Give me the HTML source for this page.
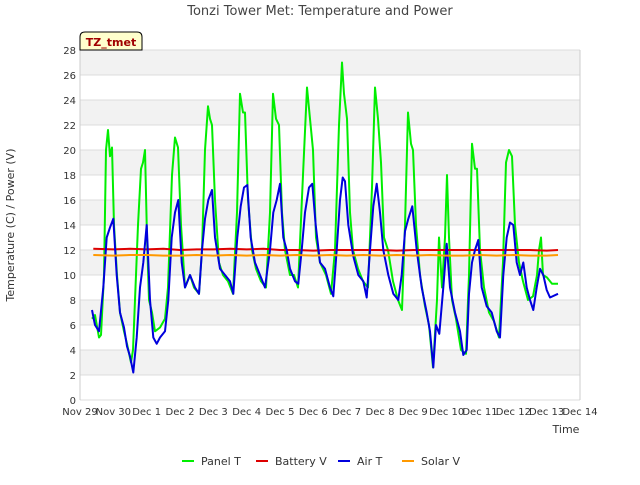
<!DOCTYPE html>
<html><head><meta charset="utf-8"><style>
body{margin:0;background:#fff;font-family:"Liberation Sans","DejaVu Sans",sans-serif}
</style></head><body>
<svg id="c" width="640" height="480" xmlns="http://www.w3.org/2000/svg" font-family="DejaVu Sans, Liberation Sans, sans-serif">
<text x="320" y="15" text-anchor="middle" font-size="13" fill="#444">Tonzi Tower Met: Temperature and Power</text>
<g id="grid"></g>
<g id="ax"></g>
<g id="series"></g>
<text x="14" y="225" transform="rotate(-90 14 225)" text-anchor="middle" font-size="11" fill="#333">Temperature (C) / Power (V)</text>
<text x="566" y="433" text-anchor="middle" font-size="11" fill="#333">Time</text>
<g>
<path d="M80,50 L80,37 Q80,32 85,32 L137,32 Q142,32 142,37 L142,50 Z" fill="#ffffcc" stroke="#000"/>
<text x="111" y="46" text-anchor="middle" font-size="11" font-weight="bold" fill="#a00000">TZ_tmet</text>
</g>
<g id="legend"></g>
</svg>
<script>
const yTicks=[0,2,4,6,8,10,12,14,16,18,20,22,24,26,28];
const xTickLabels=["Nov 29","Nov 30","Dec 1","Dec 2","Dec 3","Dec 4","Dec 5","Dec 6","Dec 7","Dec 8","Dec 9","Dec 10","Dec 11","Dec 12","Dec 13","Dec 14"];
const panelDays=[0.36,0.45,0.57,0.63,0.72,0.78,0.84,0.9,0.96,1.02,1.11,1.2,1.32,1.41,1.53,1.59,1.65,1.74,1.83,1.89,1.95,2.01,2.07,2.16,2.25,2.4,2.55,2.64,2.76,2.85,2.94,3.03,3.15,3.3,3.42,3.57,3.66,3.75,3.84,3.9,3.96,4.05,4.17,4.29,4.44,4.59,4.71,4.8,4.89,4.95,5.04,5.16,5.28,5.43,5.58,5.7,5.79,5.88,5.97,6.06,6.15,6.3,6.42,6.54,6.69,6.81,6.9,6.99,7.08,7.2,7.38,7.53,7.65,7.77,7.86,7.92,8.01,8.1,8.19,8.34,8.49,8.64,8.76,8.85,8.94,9.03,9.12,9.24,9.39,9.54,9.66,9.75,9.84,9.93,9.99,10.08,10.2,10.35,10.47,10.59,10.71,10.77,10.86,10.95,11.01,11.07,11.16,11.28,11.43,11.58,11.67,11.76,11.85,11.91,12.0,12.12,12.27,12.42,12.57,12.69,12.78,12.87,12.96,13.05,13.17,13.29,13.44,13.59,13.71,13.77,13.83,13.89,14.01,14.16,14.34];
const panelT=[6.5,6.8,5,5.2,10,20,21.6,19.5,20.2,14,10,7,5.5,4.5,3,4,8,14,18.5,19,20,13,8,7,5.5,5.8,6.5,9,18,21,20.2,14,9,10,9,8.5,12,20,23.5,22.5,22,16,11,10,9.5,8.5,15,24.5,23,23,16,12,10.5,9.5,9,15,24.5,22.5,22,15,12,10,10,9,18,25,22.5,20,13,11,10,8.5,12,22,27,24.5,22.5,15,12,10.5,9.5,9,17,25,22.5,19,13,12,9.5,8,7.2,14,23,20.5,20,14,10,7.5,6,2.6,8,13,9,13,18,13,8,6.5,4,3.7,10,20.5,18.5,18.5,12,9,7,6.3,5,11,19,20,19.5,14,11,9.5,8,8.3,10,12,13,10,9.8,9.3,9.3];
const airDays=[0.36,0.45,0.57,0.7,0.8,0.9,1.0,1.1,1.2,1.32,1.41,1.5,1.6,1.7,1.8,1.9,2.0,2.1,2.2,2.3,2.4,2.55,2.65,2.75,2.85,2.95,3.05,3.15,3.3,3.45,3.57,3.66,3.75,3.85,3.96,4.05,4.2,4.35,4.5,4.6,4.72,4.82,4.92,5.02,5.12,5.25,5.4,5.55,5.7,5.8,5.9,6.0,6.1,6.2,6.3,6.45,6.55,6.65,6.75,6.87,6.97,7.07,7.2,7.35,7.5,7.6,7.7,7.8,7.88,7.95,8.05,8.2,8.35,8.5,8.6,8.7,8.8,8.9,9.0,9.1,9.25,9.4,9.55,9.65,9.75,9.85,9.97,10.1,10.25,10.4,10.5,10.6,10.68,10.78,10.9,11.0,11.1,11.25,11.4,11.5,11.6,11.67,11.76,11.85,11.95,12.05,12.2,12.35,12.5,12.6,12.7,12.8,12.9,13.0,13.1,13.2,13.3,13.4,13.5,13.6,13.7,13.8,13.9,14.0,14.1,14.34];
const airT=[7.2,6,5.5,9,13,13.8,14.5,10,7,5.8,4.3,3.5,2.2,5,9,11,14,8,5,4.5,5,5.5,8,13,15,16,11,9,10,9,8.5,12,14.5,16,16.8,13,10.5,10,9.5,8.5,13,15.5,17,17.2,13,11,10,9,12,15,16,17.3,13,12,10.5,9.5,9.3,12,15,17,17.3,14,11,10.5,9,8.3,12,16,17.8,17.5,14,11.5,10,9.5,8.2,12,15.5,17.3,15,12,10,8.5,8,10,13.5,14.5,15.5,12,9,7,5.5,2.6,6,5.3,9,12.5,9,7,5.5,3.6,4,8.5,11,12,12.8,9,7.5,7,5.5,5,10,13,14.2,14,11,10,11,9,8,7.2,9,10.5,10,8.8,8.2,8.5];
const battDays=[0.4,1.0,1.5,2.0,2.5,3.0,3.5,4.0,4.5,5.0,5.5,6.0,6.5,7.0,7.5,8.0,8.5,9.0,9.5,10.0,10.5,11.0,11.5,12.0,12.5,13.0,13.5,14.0,14.34];
const battV=[12.1,12.05,12.1,12.05,12.1,12.0,12.05,12.05,12.1,12.05,12.1,12.0,12.0,11.95,12.0,12.0,12.0,12.0,11.95,12.0,12.0,12.0,12.0,12.0,12.0,12.0,12.0,11.95,12.0];
const solarV=[11.6,11.55,11.6,11.6,11.55,11.55,11.6,11.55,11.6,11.55,11.6,11.55,11.6,11.55,11.6,11.55,11.6,11.55,11.6,11.55,11.6,11.55,11.55,11.6,11.55,11.6,11.55,11.55,11.6];

const NS='http://www.w3.org/2000/svg';
const X0=80,X1=580,Y0=400,Y1=50;
const xs=d=>X0+d*(X1-X0)/15;
const ys=v=>Y0-v*(Y0-Y1)/28;
function mk(tag,attrs,parent){const e=document.createElementNS(NS,tag);for(const k in attrs)e.setAttribute(k,attrs[k]);parent.appendChild(e);return e;}
const grid=document.getElementById('grid'),ax=document.getElementById('ax'),ser=document.getElementById('series'),leg=document.getElementById('legend');
for(let i=0;i<yTicks.length-1;i++){
  if(i%2===1){const r=mk('rect',{x:X0,y:ys(yTicks[i+1]),width:X1-X0,height:ys(yTicks[i])-ys(yTicks[i+1]),fill:'#f2f2f2'},grid);
  
  }
}
yTicks.forEach(v=>{
  const l=mk('line',{x1:X0,x2:X1,y1:ys(v),y2:ys(v),stroke:'#dcdcdc','stroke-width':1},grid);
  
  
  const t=mk('text',{x:X0-4,y:ys(v)+4,'text-anchor':'end','font-size':10,fill:'#333'},ax);
  t.textContent=v;
  
  
});
const bl=mk('line',{x1:X0,x2:X0,y1:Y1,y2:Y0,stroke:'#ccc'},grid);


const rl=mk('line',{x1:X1,x2:X1,y1:Y1,y2:Y0,stroke:'#ccc'},grid);


xTickLabels.forEach((s,i)=>{
  const t=mk('text',{x:xs(i),y:Y0+15,'text-anchor':'middle','font-size':10,fill:'#333'},ax);
  t.textContent=s;
  
  
});
function line(days,vals,color,name){
  const p=mk('polyline',{points:days.map((d,i)=>xs(d).toFixed(1)+','+ys(vals[i]).toFixed(1)).join(' '),fill:'none',stroke:color,'stroke-width':2,'stroke-linejoin':'round'},ser);
  
  
}
line(panelDays,panelT,'#00ee00','panel-t-line');
line(battDays,battV,'#dd0000','battery-v-line');
line(airDays,airT,'#0000dd','air-t-line');
line(battDays,solarV,'#ff9900','solar-v-line');
const items=[['Panel T','#00ee00',182],['Battery V','#dd0000',256],['Air T','#0000dd',338],['Solar V','#ff9900',402]];
items.forEach(([n,c,x])=>{
  const g=mk('g',{},leg);
  
  
  mk('line',{x1:x,x2:x+12,y1:461,y2:461,stroke:c,'stroke-width':2},g);
  const t=mk('text',{x:x+19,y:465,'font-size':11,fill:'#333'},g);
  t.textContent=n;
});
</script>
</body></html>
